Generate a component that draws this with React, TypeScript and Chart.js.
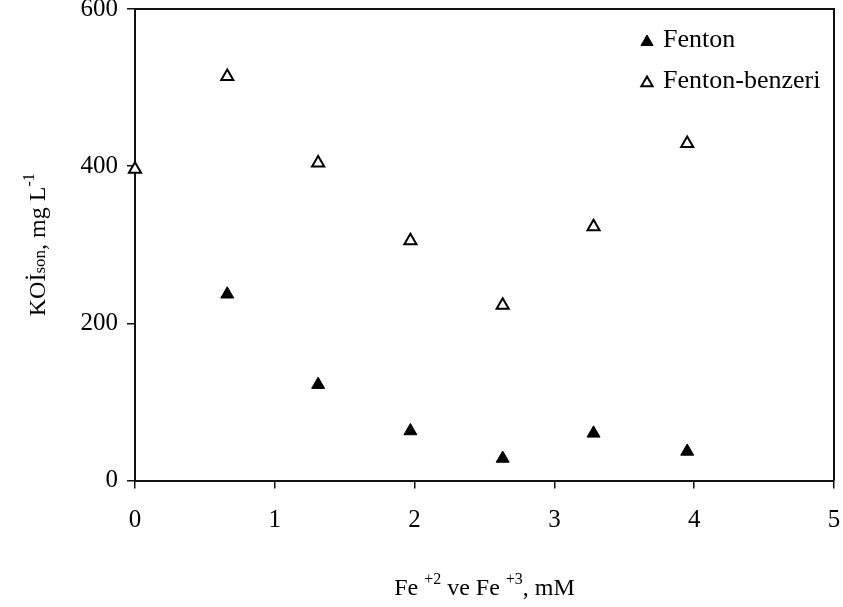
import React, { useEffect, useRef } from "react";
import { Chart, registerables } from "chart.js";

Chart.register(...registerables);

const FONT = '"Liberation Serif", "Times New Roman", serif';

const fentonX = [0.66, 1.31, 1.97, 2.63, 3.28, 3.95];
const fentonY = [237, 122, 63, 28, 60, 37];
const benzeriX = [0, 0.66, 1.31, 1.97, 2.63, 3.28, 3.95];
const benzeriY = [396, 514, 404, 305, 223, 323, 429];
const seriesLabels = ["Fenton", "Fenton-benzeri"];
const xTicks = [0, 1, 2, 3, 4, 5];
const yTicks = [0, 200, 400, 600];

function drawTri(ctx: CanvasRenderingContext2D, x: number, y: number, r: number, filled: boolean) {
  ctx.save();
  ctx.beginPath();
  ctx.moveTo(x, y - r);
  ctx.lineTo(x + r * 0.866, y + r / 2);
  ctx.lineTo(x - r * 0.866, y + r / 2);
  ctx.closePath();
  if (filled) {
    ctx.fillStyle = "#000";
    ctx.fill();
    ctx.lineWidth = 1;
    ctx.strokeStyle = "#000";
    ctx.stroke();
  } else {
    ctx.fillStyle = "#fff";
    ctx.fill();
    ctx.lineWidth = 2;
    ctx.strokeStyle = "#000";
    ctx.stroke();
  }
  ctx.restore();
}

type Piece = { t: string; size: number; rise: number };

function drawPieces(ctx: CanvasRenderingContext2D, pieces: Piece[], cx: number, baseY: number) {
  let total = 0;
  for (const p of pieces) {
    ctx.font = `${p.size}px ${FONT}`;
    total += ctx.measureText(p.t).width;
  }
  let x = cx - total / 2;
  ctx.textBaseline = "alphabetic";
  ctx.textAlign = "left";
  ctx.fillStyle = "#000";
  for (const p of pieces) {
    ctx.font = `${p.size}px ${FONT}`;
    ctx.fillText(p.t, x, baseY - p.rise);
    x += ctx.measureText(p.t).width;
  }
}

const decorPlugin = {
  id: "decor",
  afterDraw(chart: any) {
    const ctx: CanvasRenderingContext2D = chart.ctx;
    const a = chart.chartArea;
    ctx.save();
    // frame top/right
    ctx.strokeStyle = "#111";
    ctx.lineWidth = 2;
    ctx.beginPath();
    ctx.moveTo(a.left, a.top);
    ctx.lineTo(a.right, a.top);
    ctx.lineTo(a.right, a.bottom);
    ctx.stroke();

    // legend
    const lx = 647;
    const rows = [41, 82];
    ctx.font = `26px ${FONT}`;
    ctx.fillStyle = "#000";
    ctx.textBaseline = "alphabetic";
    ctx.textAlign = "left";
    drawTri(ctx, lx, rows[0] + 1, 7, true);
    ctx.fillText(seriesLabels[0], 663, rows[0] + 6);
    drawTri(ctx, lx, rows[1] + 1, 6.5, false);
    ctx.font = `26px ${FONT}`;
    ctx.fillStyle = "#000";
    ctx.fillText(seriesLabels[1], 663, rows[1] + 6);

    // x title
    const cx = (a.left + a.right) / 2;
    drawPieces(
      ctx,
      [
        { t: "Fe ", size: 24, rise: 0 },
        { t: "+2", size: 16, rise: 11 },
        { t: " ve Fe ", size: 24, rise: 0 },
        { t: "+3", size: 16, rise: 11 },
        { t: ", mM", size: 24, rise: 0 },
      ],
      cx,
      595
    );

    // y title
    ctx.save();
    ctx.translate(45, (a.top + a.bottom) / 2);
    ctx.rotate(-Math.PI / 2);
    drawPieces(
      ctx,
      [
        { t: "KOİ", size: 24, rise: 0 },
        { t: "son", size: 17, rise: 0 },
        { t: ", mg L", size: 24, rise: 0 },
        { t: "-1", size: 16, rise: 11 },
      ],
      0,
      0
    );
    ctx.restore();
    ctx.restore();
  },
};

export default function App() {
  const ref = useRef<HTMLCanvasElement | null>(null);
  useEffect(() => {
    document.body.style.margin = "0";
    const canvas = ref.current!;
    const chart = new Chart(canvas, {
      type: "scatter",
      data: {
        datasets: [
          {
            label: seriesLabels[0],
            data: fentonX.map((x, i) => ({ x, y: fentonY[i] })),
            pointStyle: "triangle",
            pointRadius: 7.5,
            pointHoverRadius: 7.5,
            backgroundColor: "#000",
            borderColor: "#000",
            borderWidth: 1,
            clip: false,
          },
          {
            label: seriesLabels[1],
            data: benzeriX.map((x, i) => ({ x, y: benzeriY[i] })),
            pointStyle: "triangle",
            pointRadius: 7,
            pointHoverRadius: 7,
            backgroundColor: "#fff",
            borderColor: "#000",
            borderWidth: 2,
            clip: false,
          },
        ],
      },
      options: {
        responsive: false,
        animation: false,
        events: [],
        layout: { padding: { top: 8.5, right: 8, left: 0, bottom: 0 } },
        plugins: {
          legend: { display: false },
          tooltip: { enabled: false },
        },
        scales: {
          x: {
            type: "linear",
            min: 0,
            max: 5,
            afterBuildTicks: (s: any) => {
              s.ticks = xTicks.map((v) => ({ value: v }));
            },
            afterFit: (s: any) => {
              s.height = 607 - 480.5;
              s.paddingLeft = 0;
              s.paddingRight = 0;
            },
            ticks: {
              color: "#000",
              font: { family: FONT, size: 25 },
              padding: 17,
              maxRotation: 0,
            },
            grid: {
              drawOnChartArea: false,
              drawTicks: true,
              tickLength: 8,
              color: "#111",
              lineWidth: 1.5,
            },
            border: { display: true, color: "#111", width: 2 },
          },
          y: {
            type: "linear",
            min: 0,
            max: 600,
            afterBuildTicks: (s: any) => {
              s.ticks = yTicks.map((v) => ({ value: v }));
            },
            afterFit: (s: any) => {
              s.width = 135;
              s.paddingTop = 0;
              s.paddingBottom = 0;
            },
            ticks: {
              color: "#000",
              font: { family: FONT, size: 25 },
              padding: 9,
            },
            grid: {
              drawOnChartArea: false,
              drawTicks: true,
              tickLength: 8,
              color: "#111",
              lineWidth: 1.5,
            },
            border: { display: true, color: "#111", width: 2 },
          },
        },
      },
      plugins: [decorPlugin],
    } as any);
    return () => chart.destroy();
  }, []);
  return (
    <div style={{ width: 843, height: 607, background: "#fff" }}>
      <canvas ref={ref} width={843} height={607} style={{ display: "block" }} />
    </div>
  );
}
